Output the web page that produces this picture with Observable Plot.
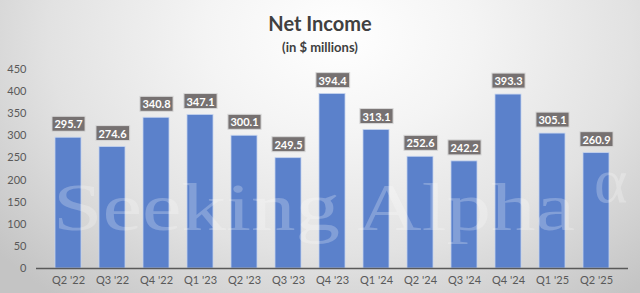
<!DOCTYPE html>
<html>
<head>
<meta charset="utf-8">
<script src="https://cdn.jsdelivr.net/npm/d3@7"></script>
<script src="https://cdn.jsdelivr.net/npm/@observablehq/plot@0.6"></script>
<style>
  html, body { margin: 0; padding: 0; }
  #wrap {
    width: 640px; height: 293px; position: relative; overflow: hidden;
    background: radial-gradient(ellipse 70% 115% at 53% 12%, #ffffff 0%, #f4f4f4 30%, #e2e2e2 65%, #c4c4c4 100%);
    font-family: Lato, "Open Sans", sans-serif;
  }
  #title { height: 56px; text-align: center; color: #404040; }
  #title .t { font-size: 20px; font-weight: 700; padding-top: 12px; line-height: 22px; }
  #title .s { font-size: 13px; font-weight: 700; line-height: 16px; margin-top: 5px; }
  svg { display: block; }
</style>
</head>
<body>
<div id="wrap">
  <div id="title"><div class="t">Net Income</div><div class="s">(in $ millions)</div></div>
  <div id="chart"></div>
</div>
<script>
const quarters = ["Q2 '22","Q3 '22","Q4 '22","Q1 '23","Q2 '23","Q3 '23","Q4 '23","Q1 '24","Q2 '24","Q3 '24","Q4 '24","Q1 '25","Q2 '25"];
const netIncome = [295.7, 274.6, 340.8, 347.1, 300.1, 249.5, 394.4, 313.1, 252.6, 242.2, 393.3, 305.1, 260.9];
const yTicks = [0, 50, 100, 150, 200, 250, 300, 350, 400, 450];
const watermark = "Seeking Alpha";

const data = quarters.map((q, i) => ({q, v: netIncome[i]}));

const chart = Plot.plot({
  width: 640,
  height: 237,
  marginTop: 13,
  marginBottom: 25,
  marginLeft: 36,
  marginRight: 12,
  style: {background: "transparent", fontFamily: "Lato, 'Open Sans', sans-serif", fontSize: "11px", color: "#595959"},
  x: {domain: quarters, padding: 0.415, label: null, tickSize: 0, tickPadding: 8},
  y: {domain: [0, 450], ticks: yTicks, label: null, tickSize: 0, tickPadding: 10},
  marks: [
    Plot.barY(data, {x: "q", y: "v", fill: "#5b81cb", stroke: "#c4d3ee", strokeWidth: 0.8}),
    Plot.ruleY([0], {stroke: "#595959", strokeWidth: 1.5}),
    Plot.text(data, {x: "q", y: "v", text: d => d.v.toFixed(1), dy: -13, lineAnchor: "middle",
      fill: "white", fontWeight: "bold", fontSize: 11, className: "vlabel"})
  ]
});
document.getElementById("chart").appendChild(chart);

const svg = d3.select(chart);
// watermark
const wm = svg.insert("g", "g[aria-label='rule']").attr("pointer-events", "none")
  .attr("text-anchor", "start");
wm.append("text")
  .attr("x", 53).attr("y", 174)
  .attr("textLength", 522).attr("lengthAdjust", "spacingAndGlyphs")
  .attr("font-family", "'Liberation Serif', 'DejaVu Serif', serif")
  .attr("font-size", 68)
  .attr("fill", "white").attr("fill-opacity", 0.24)
  .text(watermark);
wm.append("text")
  .attr("x", 594).attr("y", 146)
  .attr("font-family", "'Liberation Serif', 'DejaVu Serif', serif")
  .attr("font-size", 64)
  .attr("fill", "white").attr("fill-opacity", 0.24)
  .text("α");

// label boxes behind value labels
svg.selectAll(".vlabel text").each(function() {
  const bb = this.getBBox();
  const node = this;
  const rect = document.createElementNS("http://www.w3.org/2000/svg", "rect");
  const t = node.getAttribute("transform");
  if (t) rect.setAttribute("transform", t);
  rect.setAttribute("x", bb.x - 2.5);
  rect.setAttribute("y", bb.y - 1);
  rect.setAttribute("width", bb.width + 5);
  rect.setAttribute("height", bb.height + 2);
  rect.setAttribute("fill", "#767171");
  rect.setAttribute("stroke", "#d9d9d9");
  rect.setAttribute("stroke-width", 1);
  node.parentNode.insertBefore(rect, node);
});
</script>
</body>
</html>
